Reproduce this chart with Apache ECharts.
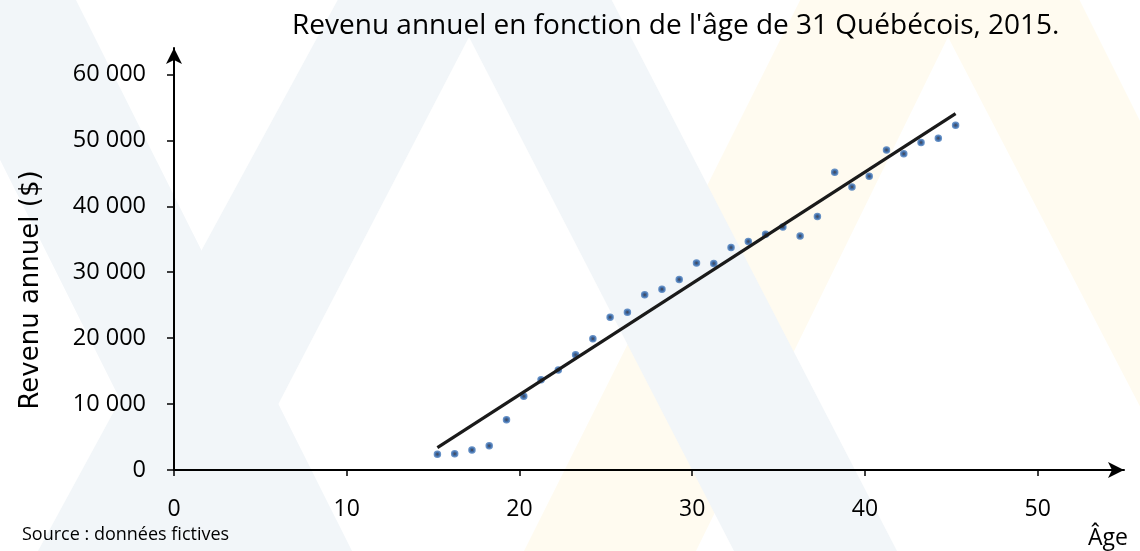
<!DOCTYPE html>
<html>
<head>
<meta charset="utf-8">
<script src="https://cdn.jsdelivr.net/npm/echarts@6/dist/echarts.min.js"></script>
<style>
html, body { margin: 0; padding: 0; background: #fff; }
#chart { width: 1140px; height: 551px; }
</style>
</head>
<body>
<div id="chart"></div>
<script>
// âges des 31 personnes
const ages = [15.25, 16.25, 17.25, 18.25, 19.25, 20.25, 21.25, 22.25, 23.25, 24.25,
    25.25, 26.25, 27.25, 28.25, 29.25, 30.25, 31.25, 32.25, 33.25, 34.25,
    35.25, 36.25, 37.25, 38.25, 39.25, 40.25, 41.25, 42.25, 43.25, 44.25, 45.25];
// revenu annuel ($)
const revenus = [2380, 2470, 3030, 3690, 7620, 11170, 13690, 15150, 17470, 19900,
    23180, 23940, 26560, 27420, 28890, 31410, 31310, 33740, 34650, 35750,
    36860, 35500, 38430, 45150, 42930, 44540, 48530, 47980, 49650, 50300, 52270];
// droite de tendance (extrémités)
const tendanceAges = [15.25, 45.25];
const tendanceRevenus = [3400, 54050];
// graduations
const ticksX = [0, 10, 20, 30, 40, 50];
const ticksY = [0, 10000, 20000, 30000, 40000, 50000, 60000];

const font = 'Open Sans';
const blue = '#f2f6f9';
const yellow = '#fffbf0';

let myChart = echarts.init(document.getElementById('chart'));
myChart.setOption({
    animation: false,
    backgroundColor: '#fff',
    title: [{
        text: "Revenu annuel en fonction de l'âge de 31 Québécois, 2015.",
        left: 287,
        top: 7,
        textStyle: { fontFamily: font, fontSize: 28, fontWeight: 'normal', color: '#000' }
    }],
    graphic: [
        // filigrane en fond
        { type: 'polygon', z: -100, silent: true,
          shape: { points: [[940, -279], [1355, 551], [1215, 551], [948, 37], [696, 551], [524, 551]] },
          style: { fill: yellow } },
        { type: 'polygon', z: -99, silent: true,
          shape: { points: [[478, -258], [897, 551], [734, 551], [469, 37], [202, 551], [38, 551]] },
          style: { fill: blue } },
        { type: 'polygon', z: -99, silent: true,
          shape: { points: [[-90, -20], [66, -20], [352, 551], [196, 551]] },
          style: { fill: blue } },
        { type: 'text', left: 22, top: 526, silent: true,
          style: { text: 'Source : données fictives', font: '18px "Open Sans"', fill: '#000' } },
        { type: 'text', left: 1088, top: 527, silent: true,
          style: { text: 'Âge', font: '23px "Open Sans"', fill: '#000' } },
        { type: 'text', x: 31, y: 290, rotation: Math.PI / 2, silent: true,
          style: { text: 'Revenu annuel ($)', font: '26px "DejaVu Sans"', fill: '#000',
                   textAlign: 'center', textVerticalAlign: 'middle' } }
    ],
    grid: {
        left: 174,
        right: 16,
        top: 48,
        bottom: 81,
        containLabel: false
    },
    xAxis: {
        type: 'value',
        min: 0,
        max: 55,
        offset: 1,
        splitLine: { show: false },
        axisLine: {
            show: true,
            symbol: ['none', 'arrow'],
            symbolSize: [12, 16],
            lineStyle: { color: '#000', width: 2 }
        },
        axisTick: {
            show: true,
            length: 6,
            customValues: ticksX,
            lineStyle: { color: '#000', width: 1.5 }
        },
        axisLabel: {
            customValues: ticksX,
            margin: 27,
            color: '#000',
            fontFamily: font,
            fontSize: 23
        }
    },
    yAxis: {
        type: 'value',
        min: 0,
        max: 64000,
        offset: 2,
        splitLine: { show: false },
        axisLine: {
            show: true,
            symbol: ['none', 'arrow'],
            symbolSize: [12, 16],
            lineStyle: { color: '#000', width: 2 }
        },
        axisTick: {
            show: true,
            length: 7,
            customValues: ticksY,
            lineStyle: { color: '#000', width: 1.5 }
        },
        axisLabel: {
            customValues: ticksY,
            margin: 26,
            color: '#000',
            fontFamily: font,
            fontSize: 23.5,
            formatter: (v) => String(v).replace(/\B(?=(\d{3})+(?!\d))/g, ' ')
        }
    },
    series: [
        {
            type: 'scatter',
            data: ages.map((a, i) => [a, revenus[i]]),
            symbolSize: 5,
            itemStyle: { color: '#15223d', borderColor: '#3f74b8', borderWidth: 2.5 },
            z: 3
        },
        {
            type: 'line',
            data: tendanceAges.map((a, i) => [a, tendanceRevenus[i]]),
            symbol: 'none',
            lineStyle: { color: '#1a1a1a', width: 3.2 },
            z: 4
        }
    ]
});
</script>
</body>
</html>
